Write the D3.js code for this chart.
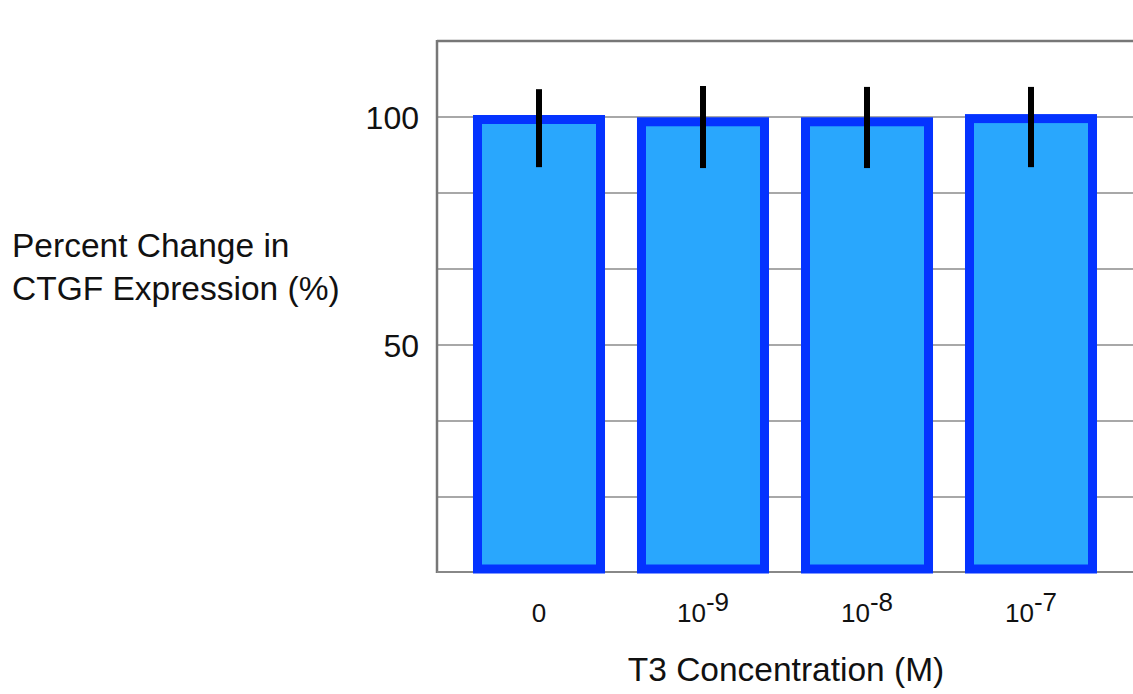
<!DOCTYPE html>
<html>
<head>
<meta charset="utf-8">
<script src="https://cdn.jsdelivr.net/npm/d3@7"></script>
<style>
  html, body { margin: 0; padding: 0; background: #fff; }
  svg { display: block; font-family: "Liberation Sans", Arial, sans-serif; }
</style>
</head>
<body>
<svg id="chart" width="1133" height="694"></svg>
<script>
// ---- data ----
const categories = ["0", "10^-9", "10^-8", "10^-7"];
const values     = [100.0, 99.5, 99.5, 100.2];
const errUpper   = [106.1, 106.8, 106.6, 106.6];
const errLower   = [89.0, 88.8, 88.8, 89.0];
const gridValues = [100/6, 200/6, 50, 400/6, 500/6, 100];
const tickValues = [50, 100];
const yTitleLines = ["Percent Change in", "CTGF Expression (%)"];
const xTitle = "T3 Concentration (M)";

// ---- layout ----
const svg = d3.select("#chart");
const plot = { left: 437, top: 41, right: 1140, bottom: 572 };

const y = d3.scaleLinear().domain([0, 700/6]).range([573, 41]);
const x = d3.scaleBand().domain(categories)
  .range([457, 1113]).paddingInner(0.195).paddingOuter(0.0975);

// gridlines
svg.append("g").selectAll("line").data(gridValues).join("line")
  .attr("x1", plot.left).attr("x2", plot.right)
  .attr("y1", d => y(d)).attr("y2", d => y(d))
  .attr("stroke", "#a8a8a8").attr("stroke-width", 2);

// frame
svg.append("line").attr("x1", plot.left).attr("x2", plot.right)
  .attr("y1", plot.top).attr("y2", plot.top)
  .attr("stroke", "#777").attr("stroke-width", 2.5);
svg.append("line").attr("x1", plot.left).attr("x2", plot.left)
  .attr("y1", plot.top - 1).attr("y2", plot.bottom + 1)
  .attr("stroke", "#777").attr("stroke-width", 2.5);
svg.append("line").attr("x1", plot.left).attr("x2", plot.right)
  .attr("y1", plot.bottom).attr("y2", plot.bottom)
  .attr("stroke", "#888").attr("stroke-width", 2);

// bars
const sw = 9;
const data = categories.map((c, i) => ({ c, v: values[i], hi: errUpper[i], lo: errLower[i] }));
svg.append("g").selectAll("rect").data(data).join("rect")
  .attr("x", d => x(d.c) + sw / 2)
  .attr("width", x.bandwidth() - sw)
  .attr("y", d => y(d.v) + 2.5)
  .attr("height", d => y(0) - 4 - (y(d.v) + 2.5))
  .attr("fill", "#29a7fd")
  .attr("stroke", "#0433ff")
  .attr("stroke-width", sw);

// error bars
svg.append("g").selectAll("line").data(data).join("line")
  .attr("x1", d => x(d.c) + x.bandwidth() / 2)
  .attr("x2", d => x(d.c) + x.bandwidth() / 2)
  .attr("y1", d => y(d.hi)).attr("y2", d => y(d.lo))
  .attr("stroke", "#000").attr("stroke-width", 6);

// y tick labels
svg.append("g").selectAll("text").data(tickValues).join("text")
  .attr("x", 419).attr("y", d => y(d) + 12)
  .attr("text-anchor", "end")
  .attr("font-size", 32).attr("fill", "#111")
  .text(d => d);

// x tick labels
const xl = svg.append("g").selectAll("text").data(categories).join("text")
  .attr("x", d => x(d) + x.bandwidth() / 2)
  .attr("y", 622)
  .attr("text-anchor", "middle")
  .attr("font-size", 26).attr("fill", "#111");
xl.each(function(d) {
  const t = d3.select(this);
  const parts = d.split("^");
  t.append("tspan").text(parts[0]);
  if (parts[1]) t.append("tspan").attr("dy", -11).text(parts[1]);
});

// y title
svg.append("text")
  .attr("x", 12).attr("y", 257)
  .attr("font-size", 33.5).attr("fill", "#111")
  .selectAll("tspan").data(yTitleLines).join("tspan")
  .attr("x", 12).attr("dy", (d, i) => i === 0 ? 0 : 43)
  .text(d => d);

// x title
svg.append("text")
  .attr("x", 786).attr("y", 681)
  .attr("text-anchor", "middle")
  .attr("font-size", 33.5).attr("fill", "#111")
  .text(xTitle);
</script>
</body>
</html>
